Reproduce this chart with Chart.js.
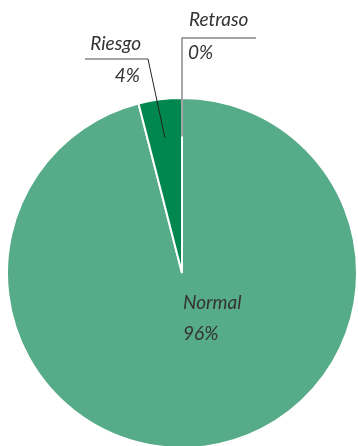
<!DOCTYPE html>
<html>
<head>
<meta charset="utf-8">
<script src="https://cdn.jsdelivr.net/npm/chart.js@4"></script>
<style>
  html, body { margin: 0; padding: 0; background: #fff; overflow: hidden; }
  #wrap { width: 358px; height: 449px; position: relative; }
</style>
</head>
<body>
<div id="wrap"><canvas id="c"></canvas></div>
<script>
// Development status distribution (percent)
const categories = ['Normal', 'Riesgo', 'Retraso'];
const values = [96, 4, 0];
const colors = ['#56ab88', '#00874f', '#9a9a9a'];

const labelFont = 'italic 19px Lato, "Open Sans", sans-serif';
const textColor = '#333333';

// Labels with leader lines, anchored to each slice's arc geometry
const sliceLabels = {
  id: 'sliceLabels',
  afterDatasetsDraw(chart) {
    const ctx = chart.ctx;
    const meta = chart.getDatasetMeta(0);
    const total = values.reduce((a, b) => a + b, 0);
    const pct = v => Math.round(v / total * 100) + '%';
    const anchor = (i, f) => {
      const a = meta.data[i];
      const mid = (a.startAngle + a.endAngle) / 2;
      return { x: a.x + Math.cos(mid) * a.outerRadius * f, y: a.y + Math.sin(mid) * a.outerRadius * f };
    };
    ctx.save();
    ctx.font = labelFont;
    ctx.fillStyle = textColor;
    ctx.textBaseline = 'middle';

    // Normal: label inside the slice
    const n = meta.data[0];
    ctx.textAlign = 'left';
    ctx.fillText(categories[0], n.x + 1, n.y + 30);
    ctx.fillText(pct(values[0]), n.x + 1, n.y + 61);

    // Riesgo: elbow leader line to the upper left
    const p1 = anchor(1, 0.78);
    ctx.strokeStyle = '#888888';
    ctx.lineWidth = 1.5;
    ctx.beginPath();
    ctx.moveTo(85, 59);
    ctx.lineTo(148, 59);
    ctx.stroke();
    ctx.strokeStyle = '#222222';
    ctx.lineWidth = 1;
    ctx.beginPath();
    ctx.moveTo(148, 59);
    ctx.lineTo(p1.x, p1.y);
    ctx.stroke();
    ctx.textAlign = 'right';
    ctx.fillText(categories[1], 141, 44);
    ctx.fillText(pct(values[1]), 140, 76);

    // Retraso: vertical leader line with a shelf to the right
    const p2 = anchor(2, 0.78);
    ctx.strokeStyle = '#888888';
    ctx.lineWidth = 1.5;
    ctx.beginPath();
    ctx.moveTo(p2.x, p2.y);
    ctx.lineTo(p2.x, 38);
    ctx.lineTo(256, 38);
    ctx.stroke();
    ctx.textAlign = 'left';
    ctx.fillText(categories[2], 189, 20);
    ctx.fillText(pct(values[2]), 188, 53);
    ctx.restore();
  }
};

new Chart(document.getElementById('c'), {
  type: 'pie',
  data: {
    labels: categories,
    datasets: [{
      data: values,
      backgroundColor: colors,
      borderColor: '#ffffff',
      borderWidth: 2,
      hoverOffset: 0
    }]
  },
  options: {
    responsive: true,
    maintainAspectRatio: false,
    animation: false,
    layout: { padding: { left: 6, right: 0, top: 97, bottom: 0 } },
    plugins: {
      legend: { display: false },
      tooltip: { enabled: false }
    }
  },
  plugins: [sliceLabels]
});
</script>
</body>
</html>
